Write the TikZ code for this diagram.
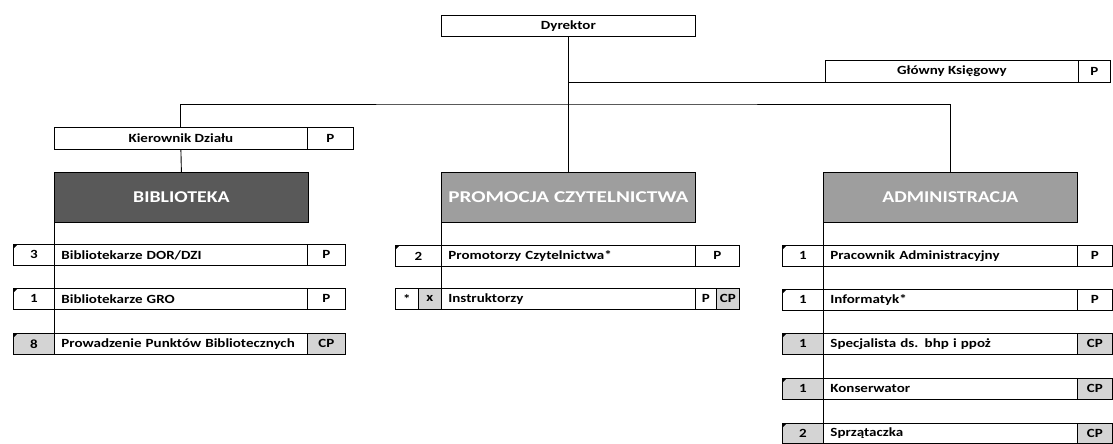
\documentclass[tikz,border=0pt]{standalone}
\usepackage{fontspec}
\setmainfont{Carlito}[FakeStretch=1.2]
\begin{document}
\begin{tikzpicture}[x=1pt,y=-1pt,line width=0.8pt]
\tikzset{
  cell/.style={draw, rectangle, inner sep=0pt, minimum height=21pt, anchor=north west,
    font=\bfseries\fontsize{12.5}{14}\selectfont},
  namec/.style={text width=#1, inner xsep=7pt, align=left},
  grayc/.style={fill=black!17},
  hdr/.style={draw, rectangle, inner sep=0pt, minimum height=50pt, minimum width=254pt,
    anchor=north west, text=white, font=\bfseries\fontsize{16.5}{18}\selectfont},
  conn/.style={draw, line width=0.9pt},
}
\newcommand\tri[1]{\fill (#1.north west) -- ++(5,0) -- ++(-5,5) -- cycle;}
\useasboundingbox (0,0) rectangle (1113,444);

% top
\node[cell, minimum width=254pt] (dyr) at (441,15) {Dyrektor};
\node[cell, minimum width=253pt, minimum height=22pt] (gk) at (825,60) {Główny Księgowy};
\node[cell, minimum width=32pt, minimum height=22pt] (gkp) at (1078,60) {P};

\node[cell, minimum width=253pt, minimum height=22pt] (kn) at (54,127) {Kierownik Działu};
\node[cell, minimum width=46pt, minimum height=22pt] (knp) at (307,127) {P};

% headers
\node[hdr, fill=black!65] (bib) at (54,172) {BIBLIOTEKA};
\node[hdr, fill=black!38] (prom) at (441,172) {\resizebox{240pt}{\height}{PROMOCJA CZYTELNICTWA}};
\node[hdr, fill=black!38] (adm) at (823,172) {ADMINISTRACJA};

% left column
\node[cell, minimum width=41pt] (l1n) at (13,244) {3};
\node[cell, namec=239pt] (l1t) at (54,244) {Bibliotekarze DOR/DZI};
\node[cell, minimum width=38pt] (l1p) at (307,244) {P};
\node[cell, minimum width=41pt] (l2n) at (13,288) {1};
\node[cell, namec=239pt] (l2t) at (54,288) {Bibliotekarze GRO};
\node[cell, minimum width=38pt] (l2p) at (307,288) {P};
\node[cell, grayc, minimum width=41pt] (l3n) at (13,333) {8};
\node[cell, namec=239pt] (l3t) at (54,333) {Prowadzenie Punktów Bibliotecznych};
\node[cell, grayc, minimum width=38pt] (l3p) at (307,333) {CP};

% middle column
\node[cell, minimum width=46pt] (m1n) at (395,245) {2};
\node[cell, namec=240pt] (m1t) at (441,245) {Promotorzy Czytelnictwa*};
\node[cell, minimum width=44pt] (m1p) at (695,245) {P};
\node[cell, minimum width=23pt] (m2a) at (395,288) {*};
\node[cell, grayc, minimum width=23pt] (m2n) at (418,288) {x};
\node[cell, namec=240pt] (m2t) at (441,288) {Instruktorzy};
\node[cell, minimum width=21pt] (m2p) at (695,288) {P};
\node[cell, grayc, minimum width=23pt] (m2c) at (716,288) {CP};

% right column
\node[cell, minimum width=41pt] (r1n) at (782,245) {1};
\node[cell, namec=240pt] (r1t) at (823,245) {Pracownik Administracyjny};
\node[cell, minimum width=35pt] (r1p) at (1077,245) {P};
\node[cell, minimum width=41pt] (r2n) at (782,289) {1};
\node[cell, namec=240pt] (r2t) at (823,289) {Informatyk*};
\node[cell, minimum width=35pt] (r2p) at (1077,289) {P};
\node[cell, grayc, minimum width=41pt] (r3n) at (782,333) {1};
\node[cell, namec=240pt] (r3t) at (823,333) {Specjalista ds. bhp i ppoż};
\node[cell, grayc, minimum width=35pt] (r3p) at (1077,333) {CP};
\node[cell, grayc, minimum width=41pt] (r4n) at (782,378) {1};
\node[cell, namec=240pt] (r4t) at (823,378) {Konserwator};
\node[cell, grayc, minimum width=35pt] (r4p) at (1077,378) {CP};
\node[cell, grayc, minimum width=41pt, minimum height=20pt] (r5n) at (782,423) {2};
\node[cell, namec=240pt, minimum height=20pt] (r5t) at (823,423) {Sprzątaczka};
\node[cell, grayc, minimum width=35pt, minimum height=20pt] (r5p) at (1077,423) {CP};

% comment markers
\tri{l1n}\tri{l2n}\tri{l3n}\tri{m1n}\tri{r1n}\tri{r2n}\tri{r3n}\tri{r4n}\tri{r5n}

% connectors
\coordinate (bus) at (568,104);
\draw[conn] (dyr.south) -- (prom.north);
\draw[conn] (dyr.south |- gk.south) -- (gk.south west);
\draw[conn] (kn.north) |- (bus) -| (adm.north);
\draw[conn] (kn.south) -- (bib.north);
\draw[conn] (bib.south west) -- (l3t.north west);
\draw[conn] (prom.south west) -- (m2t.north west);
\draw[conn] (adm.south west) -- (r5t.north west);
\end{tikzpicture}
\end{document}
